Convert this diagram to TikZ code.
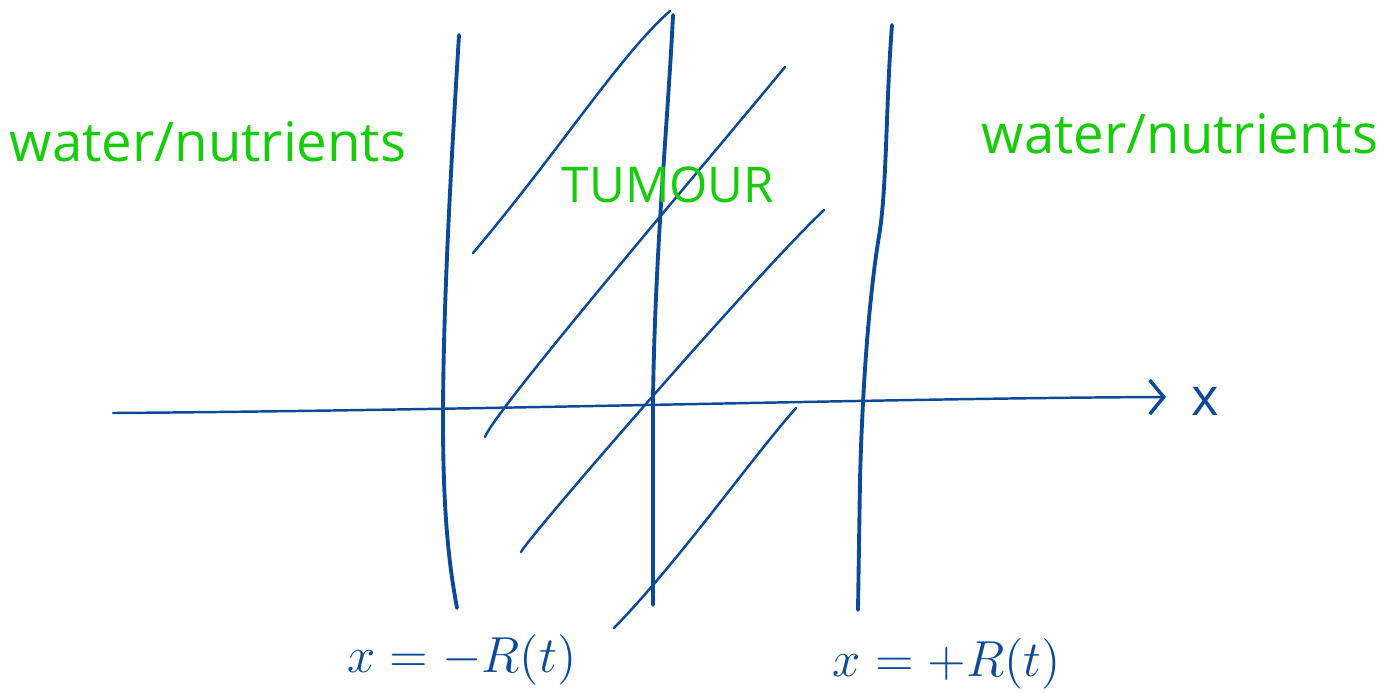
\documentclass[tikz,border=0pt]{standalone}
\usepackage{fontspec}
\setmainfont{Open Sans}
\usetikzlibrary{arrows.meta}
\definecolor{inkblue}{RGB}{12,74,152}
\definecolor{inkgreen}{RGB}{24,204,12}
\tikzset{
  wall/.style={draw=inkblue,line width=1.1pt,line cap=round},
  hatch/.style={draw=inkblue,line width=0.7pt,line cap=round},
  axis/.style={draw=inkblue,line width=0.7pt,line cap=round},
  greentext/.style={text=inkgreen,inner sep=0pt,font=\fontsize{15.5}{18}\selectfont},
  bluetext/.style={text=inkblue,inner sep=0pt,font=\fontsize{13.5}{16}\selectfont}
}
\begin{document}
\begin{tikzpicture}[x=0.01cm,y=-0.01cm]
\useasboundingbox (0,0) rectangle (1394,693);
% vertical walls
\draw[wall] (459,35) .. controls (452,150) and (443,300) .. (443,420) .. controls (443,520) and (450,570) .. (457,608);
\draw[wall] (673,15) .. controls (668,120) and (655,250) .. (653,400) -- (653,605);
\draw[wall] (892,25) .. controls (886,100) and (887,180) .. (880,230) .. controls (868,300) and (862,400) .. (860,480) -- (858,610);
% hatching
\draw[hatch] (473,253) .. controls (560,150) and (620,55) .. (670,11);
\draw[hatch] (485,437) .. controls (495,410) and (700,170) .. (785,67);
\draw[hatch] (521,552) .. controls (530,535) and (760,270) .. (824,210);
\draw[hatch] (614,628) .. controls (680,560) and (750,460) .. (796,408);
% axis
\coordinate (axL) at (113,413);
\coordinate (axR) at (1166,397);
\draw[axis,-{Straight Barb[length=1.4mm,width=3.4mm,line width=1pt]}] (axL) .. controls (500,410) and (900,398) .. (axR);
\node[bluetext,font=\fontsize{15}{18}\selectfont,anchor=center] (xlab) at (1205,401) {x};
% labels
\node[greentext] (wl) at (208,142) {water/nutrients};
\node[greentext] (wr) at (1180,134) {water/nutrients};
\node[greentext,font=\fontsize{14}{17}\selectfont] (tum) at (668,185) {TUMOUR};
\node[bluetext] (xm) at (462,660) {$x = -R(t)$};
\node[bluetext] (xp) at (947,664) {$x = +R(t)$};
\end{tikzpicture}
\end{document}
